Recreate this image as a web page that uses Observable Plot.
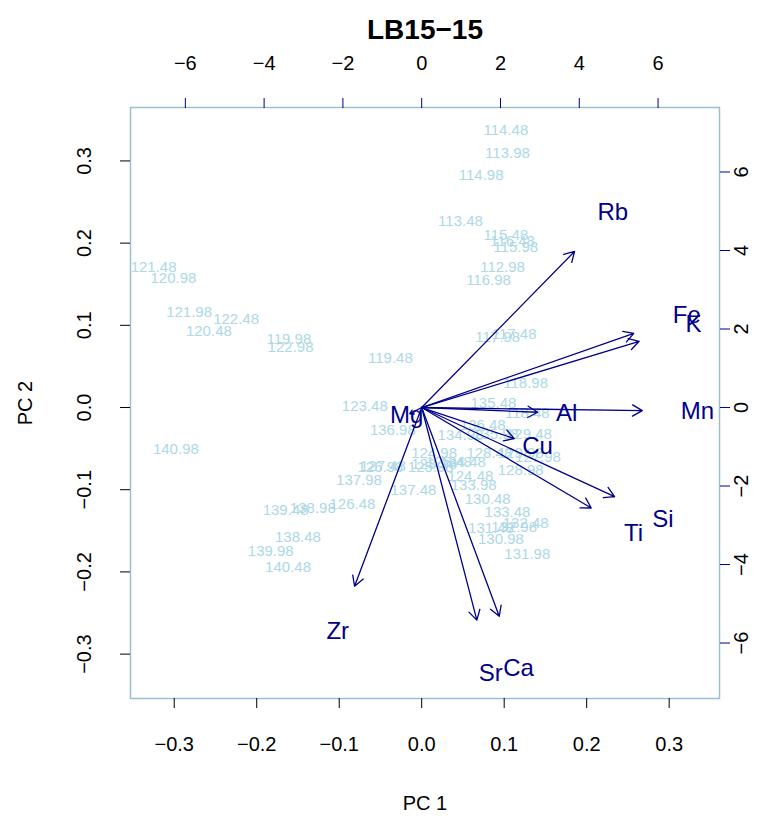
<!DOCTYPE html>
<html>
<head>
<meta charset="utf-8">
<script src="https://cdn.jsdelivr.net/npm/d3@7"></script>
<script src="https://cdn.jsdelivr.net/npm/@observablehq/plot@0.6"></script>
<style>
  html, body { margin: 0; padding: 0; background: #fff; }
</style>
</head>
<body>
<div id="chart"></div>
<script>
// Sample depths (observation labels) and their PC scores
const depths = [112.98, 113.48, 113.98, 114.48, 114.98, 115.48, 115.98, 116.48, 116.98, 117.48,
  117.98, 118.48, 118.98, 119.48, 119.98, 120.48, 120.98, 121.48, 121.98, 122.48,
  122.98, 123.48, 123.98, 124.48, 124.98, 125.48, 125.98, 126.48, 126.98, 127.48,
  127.98, 128.48, 128.98, 129.48, 129.98, 130.48, 130.98, 131.48, 131.98, 132.48,
  132.98, 133.48, 133.98, 134.48, 134.98, 135.48, 135.98, 136.48, 136.98, 137.48,
  137.98, 138.48, 138.98, 139.48, 139.98, 140.48, 140.98];
const pc1 = [0.098, 0.047, 0.104, 0.102, 0.072, 0.102, 0.114, 0.110, 0.081, 0.112,
  0.092, 0.128, 0.126, -0.038, -0.161, -0.258, -0.301, -0.325, -0.282, -0.225,
  -0.159, -0.069, 0.015, 0.059, 0.015, 0.033, 0.011, -0.084, -0.050, -0.047,
  0.141, 0.082, 0.120, 0.130, 0.120, 0.080, 0.096, 0.084, 0.128, 0.126,
  0.112, 0.104, 0.063, 0.050, 0.047, 0.087, 0.090, 0.074, -0.035, -0.010,
  -0.076, -0.150, -0.132, -0.165, -0.183, -0.162, -0.298];
const pc2 = [0.171, 0.227, 0.309, 0.337, 0.283, 0.210, 0.195, 0.202, 0.155, 0.089,
  0.085, -0.007, 0.029, 0.060, 0.083, 0.093, 0.157, 0.171, 0.116, 0.107,
  0.073, 0.002, -0.069, -0.084, -0.056, -0.066, -0.073, -0.117, -0.072, -0.071,
  -0.060, -0.055, -0.076, -0.032, -0.056, -0.111, -0.160, -0.147, -0.178, -0.141,
  -0.145, -0.127, -0.094, -0.067, -0.034, 0.005, -0.033, -0.022, -0.027, -0.100,
  -0.089, -0.158, -0.123, -0.125, -0.175, -0.194, -0.051];

// Element loadings, in the units of the top/right axes
const elements = ["Rb", "Fe", "K", "Mn", "Al", "Cu", "Si", "Ti", "Zr", "Sr", "Ca", "Mg"];
const load1 = [4.85, 6.73, 6.90, 7.00, 3.68, 2.94, 6.12, 5.38, -2.13, 1.75, 2.46, -0.38];
const load2 = [4.97, 2.36, 2.11, -0.10, -0.15, -0.99, -2.84, -3.20, -5.69, -6.77, -6.65, -0.20];

// Tick values
const scoreTicks = [-0.3, -0.2, -0.1, 0.0, 0.1, 0.2, 0.3];
const loadTicks = [-6, -4, -2, 0, 2, 4, 6];

// Loadings axes relative to score axes
const k = 20.94;

const obs = depths.map((d, i) => ({depth: d, pc1: pc1[i], pc2: pc2[i]}));
const vars = elements.map((e, i) => ({name: e, x: load1[i] / k, y: load2[i] / k}));

const navy = "#00008B";
const fmtScore = d3.format(".1f");
const fmtLoad = d => d3.format("d")(Math.round(d * k));

const chart = Plot.plot({
  width: 776,
  height: 816,
  marginLeft: 130,
  marginRight: 57,
  marginTop: 107,
  marginBottom: 118,
  style: {fontFamily: "'Liberation Sans', Arial, Helvetica, sans-serif", background: "#fff", color: "#000"},
  x: {domain: [-0.353, 0.361]},
  y: {domain: [-0.354, 0.365]},
  marks: [
    Plot.frame({stroke: "#9ABFCF", strokeWidth: 1.5}),
    // bottom / left: scores
    Plot.axisX({anchor: "bottom", ticks: scoreTicks, tickFormat: fmtScore, tickSize: 10, tickPadding: 28, fontSize: 20, label: null, stroke: "#000"}),
    Plot.axisY({anchor: "left", ticks: scoreTicks, tickFormat: fmtScore, tickSize: 10, tickPadding: 30, tickRotate: -90, lineAnchor: "bottom", fontSize: 20, label: null, stroke: "#000"}),
    // top / right: loadings
    Plot.axisX({anchor: "top", ticks: loadTicks.map(u => u / k), tickFormat: fmtLoad, tickSize: 10, tickPadding: 28, fontSize: 20, label: null, stroke: navy}),
    Plot.axisY({anchor: "right", ticks: loadTicks.map(u => u / k), tickFormat: fmtLoad, tickSize: 10, tickPadding: 4, tickRotate: -90, lineAnchor: "top", fontSize: 20, label: null, stroke: navy}),
    // titles
    Plot.text(["LB15\u221215"], {text: d => d, frameAnchor: "top", lineAnchor: "middle", dy: -77, fontSize: 28, fontWeight: "bold"}),
    Plot.text(["PC 1"], {text: d => d, frameAnchor: "bottom", lineAnchor: "middle", dy: 105, fontSize: 20}),
    Plot.text(["PC 2"], {text: d => d, frameAnchor: "left", textAnchor: "middle", lineAnchor: "middle", dx: -105, rotate: -90, fontSize: 20}),
    // observations
    Plot.text(obs, {x: "pc1", y: "pc2", text: d => d3.format(".2f")(d.depth), fill: "#ADD8E6", fontSize: 15}),
    // variable arrows drawn to 80% of the loading, labels at the loading
    Plot.arrow(vars, {x1: 0, y1: 0, x2: d => 0.8 * d.x, y2: d => 0.8 * d.y, stroke: navy, strokeWidth: 1.3, headLength: 13, headAngle: 60}),
    Plot.text(vars, {x: "x", y: "y", text: "name", fill: navy, fontSize: 24})
  ]
});
document.getElementById("chart").appendChild(chart);
</script>
</body>
</html>
